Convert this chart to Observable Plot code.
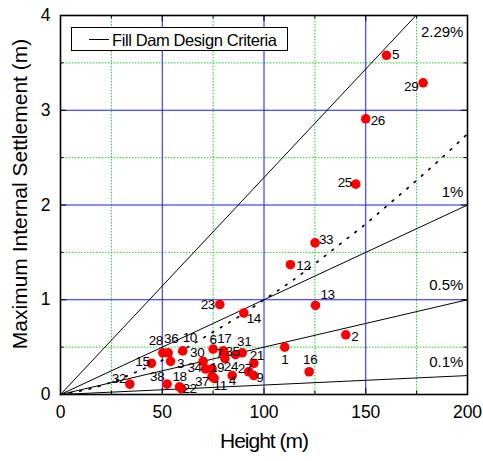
<!DOCTYPE html>
<html>
<head>
<meta charset="utf-8">
<script src="https://cdn.jsdelivr.net/npm/d3@7"></script>
<script src="https://cdn.jsdelivr.net/npm/@observablehq/plot@0.6"></script>
<style>
  html, body { margin: 0; padding: 0; background: #fff; }
  #chart svg { display: block; font-family: "Liberation Sans", Arial, sans-serif; }
</style>
</head>
<body>
<div id="chart"></div>
<script>
// ---- data ----
const damIds = [1, 2, 3, 4, 5, 6, 7, 9, 10, 11, 12, 13, 14, 15, 16, 17, 18, 19, 21, 22, 23, 24, 25, 26, 27, 28, 29, 30, 31, 32, 33, 34, 35, 36, 37, 38];
const damHeight = [110.2, 140.2, 54.1, 84.4, 160.2, 75.0, 80.5, 95.0, 60.1, 75.5, 113.0, 125.3, 90.1, 44.7, 122.2, 80.0, 58.5, 74.5, 95.0, 59.5, 78.3, 80.8, 145.1, 150.0, 92.5, 50.3, 178.2, 70.1, 89.3, 34.1, 125.1, 71.3, 86.0, 52.9, 74.5, 52.4];
const damSettlement = [0.50, 0.63, 0.35, 0.20, 3.58, 0.48, 0.43, 0.20, 0.46, 0.17, 1.37, 0.94, 0.86, 0.33, 0.24, 0.46, 0.08, 0.27, 0.33, 0.06, 0.95, 0.38, 2.22, 2.91, 0.24, 0.44, 3.29, 0.35, 0.44, 0.11, 1.60, 0.27, 0.42, 0.44, 0.19, 0.11];

// design criteria (settlement / height ratios)
const criteriaRatio = [0.0229, 0.01, 0.005, 0.001];
const criteriaLabel = ["2.29%", "1%", "0.5%", "0.1%"];

// dotted trend curve
const trendHeight = [0, 12.5, 25, 37.5, 50, 62.5, 75, 87.5, 100, 112.5, 125, 137.5, 150, 162.5, 175, 187.5, 200];
const trendSettlement = [0, 0.05, 0.13, 0.24, 0.36, 0.50, 0.66, 0.82, 1.0, 1.18, 1.38, 1.59, 1.80, 2.03, 2.26, 2.50, 2.75];

// axis ticks
const xMajor = [0, 50, 100, 150, 200];
const xMinor = [25, 75, 125, 175];
const yMajor = [0, 1, 2, 3, 4];
const yMinor = [0.5, 1.5, 2.5, 3.5];

// ---- layout (label placement, not data) ----
const labelDx = [0, 9, 10, 0, 9, 0, -5, 6, 7, 6, 13, 12, 10, -9, 1, 1, 0, 5, 3, 8, -12, 6, -11, 12, -4, -7, -12, -6, 2, -11, 11, -11, -3, 3, -10, -10];
const labelDy = [13, 2, 2, 5, -1, -9, 0, 2, -13, 7, 1, -11, 6, -2, -12, -12, -10, -1, -8, 0, 0, 8, -1, 2, -3, -12, 4, -9, -11, -5, -3, -1, -3, -14, 5, -7];
const pctLabelY = [3.82, 2.14, 1.15, 0.34];

const dams = damIds.map((id, i) => ({id, h: damHeight[i], s: damSettlement[i], dx: labelDx[i], dy: labelDy[i]}));
const trend = trendHeight.map((h, i) => ({h, s: trendSettlement[i]}));
const criteria = criteriaRatio.map((r, i) => ({r, label: criteriaLabel[i], ly: pctLabelY[i]}));

const font = "'Liberation Sans', Arial, sans-serif";

const plot = Plot.plot({
  width: 483,
  height: 461,
  marginLeft: 60,
  marginRight: 16,
  marginTop: 15,
  marginBottom: 67,
  style: {fontFamily: font, background: "#fff", overflow: "visible"},
  x: {domain: [0, 200]},
  y: {domain: [0, 4]},
  marks: [
    // green dotted minor grid
    Plot.ruleX(xMinor, {stroke: "#22cc22", strokeWidth: 1, strokeDasharray: "1.5,1.5"}),
    Plot.ruleY(yMinor, {stroke: "#22cc22", strokeWidth: 1, strokeDasharray: "1.5,1.5"}),
    // blue major grid
    Plot.ruleX(xMajor.slice(1, -1), {stroke: "#1a1aff", strokeWidth: 1}),
    Plot.ruleY(yMajor.slice(1, -1), {stroke: "#1a1aff", strokeWidth: 1}),
    // design criteria lines
    Plot.link(criteria, {
      x1: () => 0, y1: () => 0,
      x2: d => Math.min(200, 4 / d.r), y2: d => Math.min(4, 200 * d.r),
      stroke: "black", strokeWidth: 1
    }),
    // dotted trend
    Plot.line(trend, {x: "h", y: "s", curve: "catmull-rom", stroke: "black", strokeWidth: 1.7, strokeDasharray: "1.7,8"}),
    // criteria labels
    Plot.text(criteria, {x: () => 198, y: "ly", text: "label", textAnchor: "end", fontSize: 15, fill: "black"}),
    // data points
    Plot.dot(dams, {x: "h", y: "s", r: 4.8, fill: "red", stroke: "none"}),
    Plot.text(dams, {
      x: "h", y: "s", text: d => String(d.id),
      fontSize: 13.5, fill: "black",
      render(index, scales, values, dims, ctx, next) {
        const g = next(index, scales, values, dims, ctx);
        d3.select(g).selectAll("text").each(function(_, j) {
          const d = dams[index[j]];
          const t = d3.select(this);
          const tr = t.attr("transform") || "";
          t.attr("transform", tr + ` translate(${d.dx},${d.dy})`).style("letter-spacing", "-0.4px");
        });
        return g;
      }
    }),
    // inward ticks
    Plot.ruleX(xMajor, {y1: 0, y2: 0.065, stroke: "black", strokeWidth: 1}),
    Plot.ruleX(xMajor, {y1: 4, y2: 3.935, stroke: "black", strokeWidth: 1}),
    Plot.ruleX(xMinor, {y1: 0, y2: 0.035, stroke: "black", strokeWidth: 1}),
    Plot.ruleX(xMinor, {y1: 4, y2: 3.965, stroke: "black", strokeWidth: 1}),
    Plot.ruleY(yMajor, {x1: 0, x2: 3, stroke: "black", strokeWidth: 1}),
    Plot.ruleY(yMajor, {x1: 200, x2: 197, stroke: "black", strokeWidth: 1}),
    Plot.ruleY(yMinor, {x1: 0, x2: 1.7, stroke: "black", strokeWidth: 1}),
    Plot.ruleY(yMinor, {x1: 200, x2: 198.3, stroke: "black", strokeWidth: 1}),
    Plot.frame({stroke: "black", strokeWidth: 1.6}),
    // axes
    Plot.axisX({ticks: xMajor, tickFormat: d => String(d), tickSize: 0, tickPadding: 11, fontSize: 17.5, label: null}),
    Plot.axisY({ticks: yMajor, tickFormat: d => String(d), tickSize: 0, tickPadding: 10, fontSize: 17.5, label: null}),
    // axis titles
    Plot.text(["Height (m)"], {frameAnchor: "bottom", textAnchor: "middle", dy: 53, fontSize: 21, fill: "black"}),
    Plot.text(["Maximum Internal Settlement (m)"], {frameAnchor: "left", textAnchor: "middle", rotate: -90, dx: -40, dy: -11, fontSize: 21, fill: "black"})
  ]
});

document.getElementById("chart").appendChild(plot);

// legend box (drawn into the plot's svg)
const svg = d3.select(plot);
const lg = svg.append("g").attr("class", "legend").attr("text-anchor", "start");
lg.append("rect").attr("x", 71.5).attr("y", 27.5).attr("width", 216).attr("height", 23)
  .attr("fill", "white").attr("stroke", "black").attr("stroke-width", 1);
lg.append("line").attr("x1", 89).attr("x2", 109).attr("y1", 39.5).attr("y2", 39.5)
  .attr("stroke", "black").attr("stroke-width", 1);
lg.append("text").attr("x", 112).attr("y", 45.5).attr("text-anchor", "start")
  .style("font-size", "16.5px").style("letter-spacing", "-0.4px").attr("fill", "black")
  .text("Fill Dam Design Criteria");
svg.selectAll("text").filter(function() { return this.textContent === "Height (m)"; }).style("letter-spacing", "-1px");
</script>
</body>
</html>
